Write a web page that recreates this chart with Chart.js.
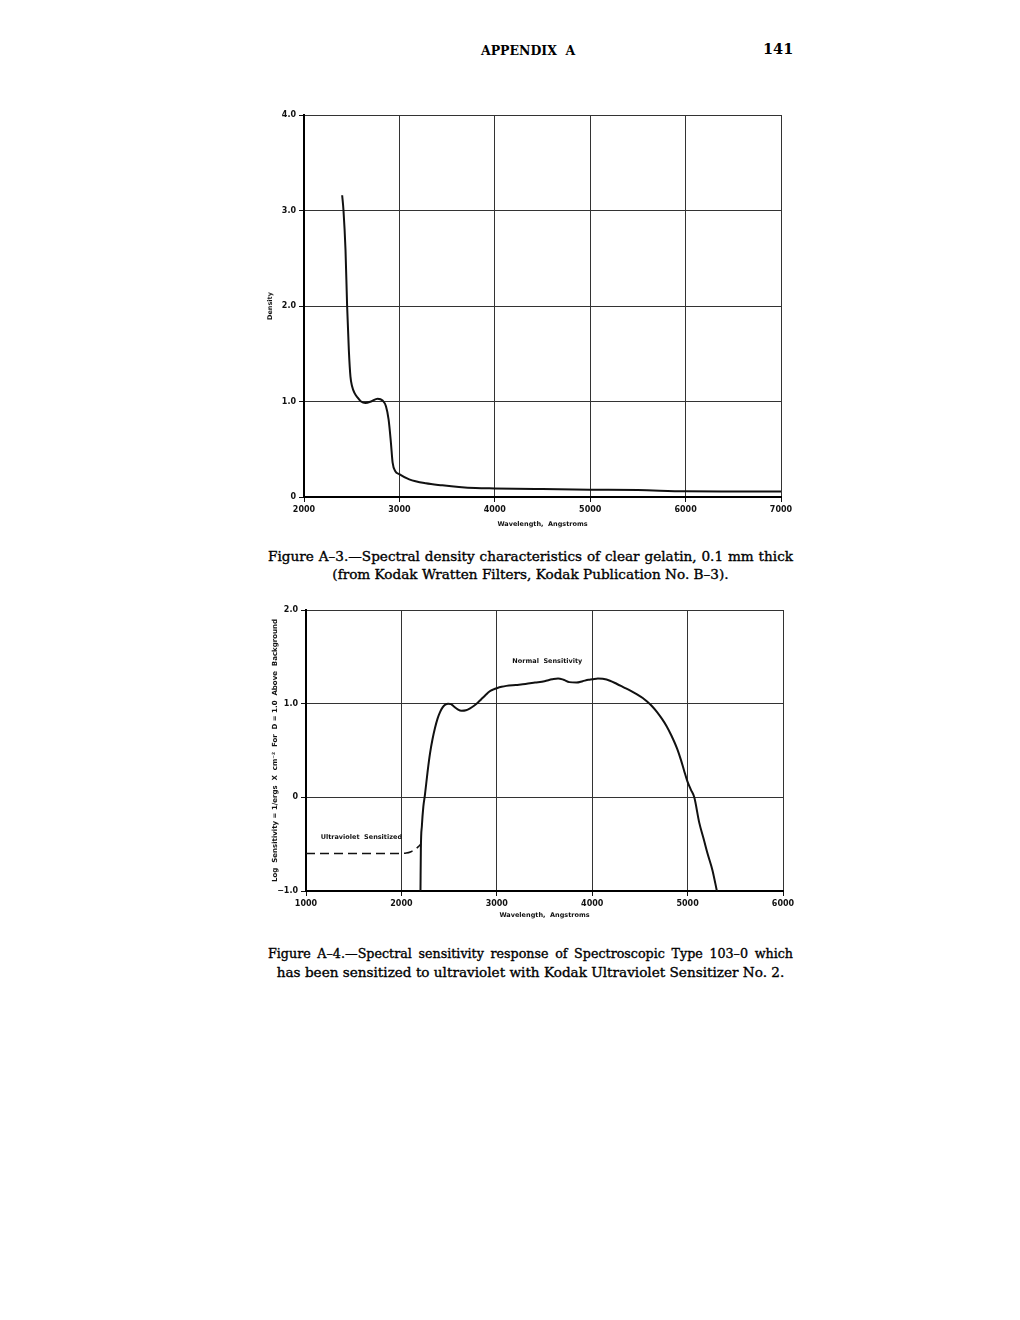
<!DOCTYPE html>
<html>
<head>
<meta charset="utf-8">
<script src="https://cdn.jsdelivr.net/npm/chart.js@4.4.1/dist/chart.umd.min.js"></script>
<style>
  body { margin: 0; background: #fff; }
  #page { position: relative; width: 1020px; height: 1320px; background: #fff; }
  canvas { position: absolute; }
  .txt { position: absolute; color: #000; font-family: "DejaVu Serif", serif; white-space: nowrap; }
  .header { top: 43px; font-weight: bold; font-size: 12.5px; }
  .pageno { top: 40px; left: 763px; font-weight: bold; font-size: 14.5px; }
  .cap { left: 268px; width: 525px; font-size: 13.6px; line-height: 18px; -webkit-text-stroke: 0.35px #000; }
  .cap .j { text-align: justify; text-align-last: justify; }
  .cap .c { text-align: center; }
  .cap .corto { font-size: 12.7px; }
</style>
</head>
<body>
<div id="page">
  <div class="txt header" style="left:481px;">APPENDIX&nbsp;&nbsp;A</div>
  <div class="txt pageno">141</div>

  <canvas id="grafico1" width="560" height="440" style="left:250px;top:100px;"></canvas>

  <div class="txt cap" style="top:547px;">
    <div class="j">Figure A–3.—Spectral density characteristics of clear gelatin, 0.1 mm thick</div>
    <div class="c">(from Kodak Wratten Filters, Kodak Publication No. B–3).</div>
  </div>

  <canvas id="grafico2" width="560" height="335" style="left:250px;top:595px;"></canvas>

  <div class="txt cap" style="top:945px;">
    <div class="j corto">Figure A–4.—Spectral sensitivity response of Spectroscopic Type 103–0 which</div>
    <div class="c">has been sensitized to ultraviolet with Kodak Ultraviolet Sensitizer No. 2.</div>
  </div>
</div>

<script>
// Figura A-3: densidad de gelatina clara
const densidadLongitud = [2400, 2414, 2435, 2452, 2470, 2487, 2504, 2529, 2563, 2598, 2643, 2703, 2772, 2824, 2859, 2887, 2911, 2929, 2957, 2998, 3103, 3277, 3450, 3624, 3798, 4000, 4500, 5000, 5500, 6000, 6500, 7000];
const densidadValores = [3.16, 3.0, 2.59, 2.0, 1.54, 1.26, 1.16, 1.09, 1.04, 1.0, 0.985, 1.0, 1.03, 1.01, 0.95, 0.81, 0.57, 0.36, 0.27, 0.24, 0.185, 0.143, 0.122, 0.105, 0.094, 0.09, 0.083, 0.077, 0.072, 0.06, 0.058, 0.057];
const densidadTicksX = [2000, 3000, 4000, 5000, 6000, 7000];
const densidadTicksY = [0, 1, 2, 3, 4];

// Figura A-4: sensibilidad espectral
const normalLongitud = [2200, 2204, 2215, 2230, 2246, 2274, 2300, 2326, 2352, 2379, 2405, 2432, 2460, 2490, 2520, 2550, 2590, 2630, 2677, 2720, 2765, 2800, 2835, 2880, 2923, 2960, 3000, 3050, 3100, 3200, 3300, 3400, 3500, 3580, 3642, 3700, 3760, 3835, 3900, 3960, 4000, 4060, 4110, 4186, 4260, 4330, 4400, 4470, 4530, 4572, 4630, 4680, 4730, 4780, 4830, 4890, 4930, 4962, 4998, 5035, 5070, 5122, 5170, 5209, 5261, 5307];
const normalValores = [-1.0, -0.55, -0.3, -0.1, 0.02, 0.27, 0.47, 0.62, 0.74, 0.84, 0.91, 0.96, 0.99, 1.0, 0.995, 0.97, 0.94, 0.925, 0.93, 0.95, 0.98, 1.01, 1.045, 1.09, 1.13, 1.15, 1.165, 1.18, 1.19, 1.2, 1.21, 1.225, 1.24, 1.26, 1.27, 1.255, 1.23, 1.225, 1.24, 1.255, 1.26, 1.27, 1.265, 1.245, 1.21, 1.175, 1.14, 1.1, 1.06, 1.025, 0.97, 0.91, 0.84, 0.76, 0.66, 0.52, 0.4, 0.29, 0.17, 0.08, 0.0, -0.27, -0.45, -0.6, -0.78, -1.0];
const uvLongitud = [1000, 1500, 1950, 2050, 2100, 2150, 2185, 2204];
const uvValores = [-0.6, -0.6, -0.6, -0.595, -0.58, -0.55, -0.52, -0.5];
const sensibilidadTicksX = [1000, 2000, 3000, 4000, 5000, 6000];
const sensibilidadTicksY = [-1, 0, 1, 2];

const fuenteTick = { family: '"DejaVu Sans", sans-serif', size: 8, weight: 'bold' };
const fuenteTitulo = { family: '"DejaVu Sans", sans-serif', size: 6.5, weight: 'bold' };

const puntos = (xs, ys) => xs.map((x, i) => ({ x: x, y: ys[i] }));

const etiquetaY = v => {
    if (v === 0) return '0';
    return (v < 0 ? '−' : '') + Math.abs(v).toFixed(1);
};

// rotulos de las curvas
const rotulos = {
    id: 'rotulos',
    afterDatasetsDraw(chart, args, opts) {
        const items = opts.items || [];
        if (!items.length) return;
        const { ctx, scales } = chart;
        ctx.save();
        ctx.font = 'bold 6.5px "DejaVu Sans", sans-serif';
        ctx.fillStyle = '#111';
        ctx.textAlign = 'center';
        ctx.textBaseline = 'middle';
        items.forEach(it => {
            ctx.fillText(it.text, scales.x.getPixelForValue(it.x), scales.y.getPixelForValue(it.y));
        });
        ctx.restore();
    }
};

function ejeX(ticks, alto, padTitulo) {
    return {
        type: 'linear',
        min: ticks[0],
        max: ticks[ticks.length - 1],
        afterBuildTicks: s => { s.ticks = ticks.map(v => ({ value: v })); },
        afterFit: s => { s.height = alto; },
        grid: { color: '#333', lineWidth: 1, tickLength: 5, tickColor: '#111' },
        border: { color: '#000', width: 2 },
        ticks: { font: fuenteTick, color: '#111', padding: 3, maxRotation: 0, autoSkip: false, callback: v => String(v) },
        title: { display: true, text: 'Wavelength,  Angstroms', font: fuenteTitulo, color: '#111', padding: { top: 0, bottom: padTitulo } }
    };
}

function ejeY(ticks, ancho, texto, padTitulo, tamTitulo) {
    return {
        min: ticks[0],
        max: ticks[ticks.length - 1],
        afterBuildTicks: s => { s.ticks = ticks.map(v => ({ value: v })); },
        afterFit: s => { s.width = ancho; },
        grid: { color: '#333', lineWidth: 1, tickLength: 5, tickColor: '#111' },
        border: { color: '#000', width: 2 },
        ticks: { font: fuenteTick, color: '#111', padding: 3, callback: v => etiquetaY(v) },
        title: { display: true, text: texto, font: { ...fuenteTitulo, size: tamTitulo }, color: '#111', padding: { top: padTitulo, bottom: 0 } }
    };
}

const grafico1 = document.getElementById('grafico1').getContext('2d');
const grafico2 = document.getElementById('grafico2').getContext('2d');

window.graficaDensidad = new Chart(grafico1, {
    type: 'line',
    data: {
        datasets: [{
            data: puntos(densidadLongitud, densidadValores),
            borderColor: '#111',
            borderWidth: 2,
            pointRadius: 0,
            cubicInterpolationMode: 'monotone',
            fill: false
        }]
    },
    options: {
        responsive: false,
        animation: false,
        devicePixelRatio: 1,
        layout: { padding: { top: 15, right: 29, left: 0, bottom: 0 } },
        plugins: { legend: { display: false }, tooltip: { enabled: false } },
        scales: {
            x: ejeX(densidadTicksX, 43, 12),
            y: ejeY(densidadTicksY, 54, 'Density', 16, 6.5)
        }
    }
});

window.graficaSensibilidad = new Chart(grafico2, {
    type: 'line',
    data: {
        datasets: [{
            label: 'Normal Sensitivity',
            data: puntos(normalLongitud, normalValores),
            borderColor: '#111',
            borderWidth: 2,
            pointRadius: 0,
            cubicInterpolationMode: 'monotone',
            fill: false
        }, {
            label: 'Ultraviolet Sensitized',
            data: puntos(uvLongitud, uvValores),
            borderColor: '#111',
            borderWidth: 1.6,
            borderDash: [9, 5],
            pointRadius: 0,
            cubicInterpolationMode: 'monotone',
            fill: false
        }]
    },
    options: {
        responsive: false,
        animation: false,
        devicePixelRatio: 1,
        layout: { padding: { top: 15, right: 27, left: 0, bottom: 0 } },
        plugins: {
            legend: { display: false },
            tooltip: { enabled: false },
            rotulos: {
                items: [
                    { text: 'Normal  Sensitivity', x: 3530, y: 1.45 },
                    { text: 'Ultraviolet  Sensitized', x: 1580, y: -0.43 }
                ]
            }
        },
        scales: {
            x: ejeX(sensibilidadTicksX, 39, 11),
            y: ejeY(sensibilidadTicksY, 56, 'Log  Sensitivity = 1/ergs  X  cm⁻²  For  D = 1.0  Above  Background', 21, 7)
        }
    },
    plugins: [rotulos]
});
</script>
</body>
</html>
